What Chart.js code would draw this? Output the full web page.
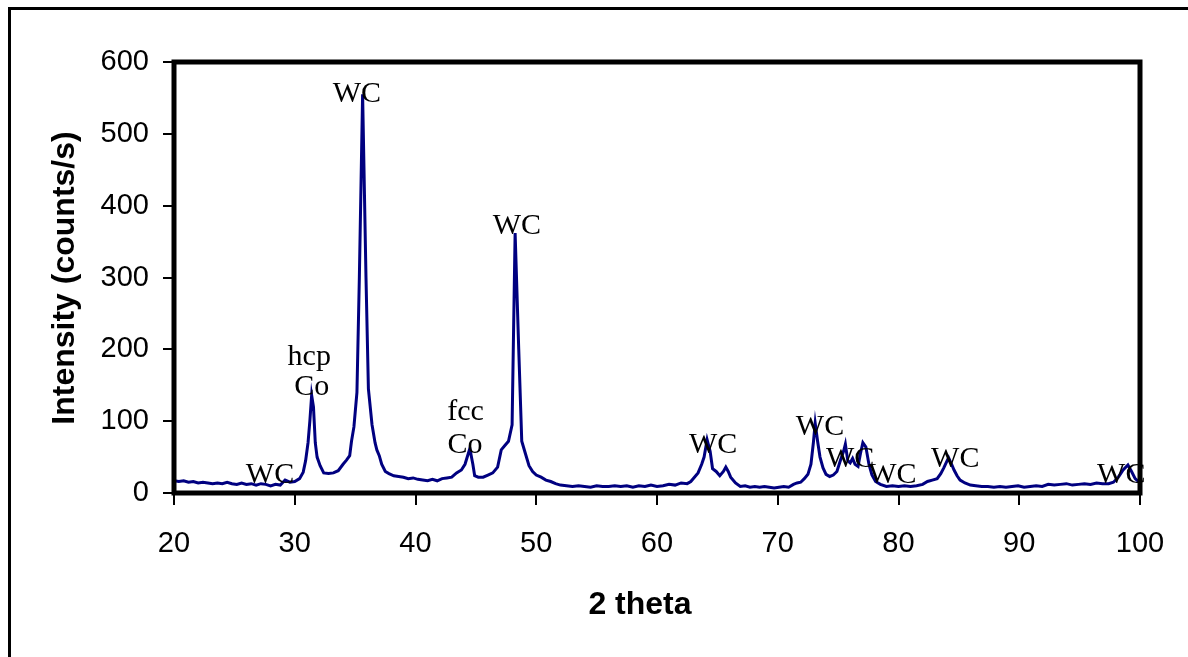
<!DOCTYPE html>
<html>
<head>
<meta charset="utf-8">
<script src="https://cdn.jsdelivr.net/npm/chart.js@4.4.0/dist/chart.umd.min.js"></script>
<style>
  body { margin: 0; background: #fff; overflow: hidden; }
  #frame { position: absolute; left: 8px; top: 7px; width: 1400px; height: 900px; border-left: 3px solid #000; border-top: 3px solid #000; }
  #xrd { position: absolute; left: 0; top: 0; }
</style>
</head>
<body>
<div id="frame"></div>
<canvas id="xrd" width="1188" height="657"></canvas>
<script>
/* global Chart */

// 2 theta (deg) and intensity (counts/s)
const twoTheta = [
  20.0, 20.4, 20.8, 21.2, 21.6, 22.0, 22.4, 22.8, 23.2, 23.6, 24.0, 24.4, 24.8, 25.2, 25.6, 26.0,
  26.4, 26.8, 27.2, 27.6, 28.0, 28.4, 28.8, 29.2, 29.6, 30.0, 30.4, 30.7, 30.9, 31.1, 31.25, 31.4,
  31.55, 31.7, 31.85, 32.1, 32.4, 32.8, 33.2, 33.6, 34.0, 34.3, 34.55, 34.7, 34.9, 35.15, 35.35, 35.62,
  35.9, 36.1, 36.4, 36.65, 36.8, 37.0, 37.2, 37.5, 37.8, 38.2, 38.6, 39.0, 39.4, 39.8, 40.2, 40.6,
  41.0, 41.4, 41.8, 42.2, 42.6, 43.0, 43.4, 43.8, 44.1, 44.5, 44.75, 44.9, 45.2, 45.6, 46.0, 46.4,
  46.8, 47.1, 47.4, 47.7, 48.0, 48.25, 48.55, 48.8, 49.1, 49.4, 49.7, 50.0, 50.4, 50.8, 51.2, 51.6,
  52.0, 52.5, 53.0, 53.5, 54.0, 54.5, 55.0, 55.5, 56.0, 56.5, 57.0, 57.5, 58.0, 58.5, 59.0, 59.5,
  60.0, 60.5, 61.0, 61.5, 62.0, 62.5, 62.8, 63.1, 63.4, 63.7, 63.9, 64.15, 64.4, 64.6, 64.9, 65.2,
  65.5, 65.7, 65.9, 66.1, 66.5, 66.9, 67.3, 67.7, 68.1, 68.5, 68.9, 69.3, 69.7, 70.1, 70.5, 70.9,
  71.3, 71.6, 71.9, 72.2, 72.5, 72.75, 72.95, 73.1, 73.3, 73.5, 73.75, 74.0, 74.3, 74.6, 74.9, 75.2,
  75.45, 75.6, 75.8, 76.0, 76.2, 76.4, 76.65, 76.85, 77.05, 77.3, 77.55, 77.8, 78.1, 78.5, 79.0, 79.5,
  80.0, 80.5, 81.0, 81.5, 82.0, 82.4, 82.8, 83.2, 83.5, 83.75, 84.0, 84.15, 84.4, 84.6, 84.85, 85.1,
  85.5, 85.95, 86.4, 86.9, 87.4, 87.9, 88.4, 88.9, 89.4, 89.9, 90.4, 90.9, 91.4, 91.9, 92.4, 92.9,
  93.4, 93.9, 94.4, 94.9, 95.4, 95.9, 96.4, 96.9, 97.4, 97.8, 98.2, 98.6, 99.0, 99.3, 99.6, 100.0
];
const intensity = [
  17, 16, 17, 15, 16, 14, 15, 14, 13, 14, 13, 15, 13, 12, 14, 12,
  13, 11, 13, 12, 10, 12, 11, 18, 15, 16, 20, 29, 45, 70, 100, 136,
  120, 70, 50, 38, 28, 27, 28, 31, 40, 46, 52, 72, 92, 140, 300, 555,
  300, 145, 95, 70, 60, 52, 40, 30, 27, 24, 23, 22, 20, 21, 19, 18,
  17, 19, 17, 20, 21, 22, 28, 32, 40, 62, 40, 24, 22, 22, 25, 28,
  36, 60, 66, 72, 95, 362, 200, 72, 55, 38, 30, 25, 22, 18, 16, 13,
  11, 10, 9, 10, 9, 8, 10, 9, 9, 10, 9, 10, 8, 10, 9, 11,
  9, 10, 12, 11, 14, 13, 16, 22, 28, 40, 50, 74, 58, 34, 30, 24,
  30, 36, 30, 22, 14, 9, 10, 8, 9, 8, 9, 8, 7, 8, 9, 8,
  12, 14, 15, 20, 26, 40, 70, 97, 72, 50, 35, 26, 23, 25, 30, 46,
  58, 68, 45, 42, 48, 40, 37, 55, 70, 64, 40, 25, 16, 12, 9, 10,
  9, 10, 9, 10, 12, 16, 18, 20, 27, 35, 44, 49, 40, 32, 24, 18,
  14, 11, 10, 9, 9, 8, 9, 8, 9, 10, 8, 9, 10, 9, 12, 11,
  12, 13, 11, 12, 13, 12, 14, 13, 13, 15, 22, 32, 39, 30, 20, 14
];

// peak labels: text, 2 theta, intensity at the text baseline
const peakText = ['WC', 'hcp', 'Co', 'WC', 'fcc', 'Co', 'WC', 'WC', 'WC', 'WC', 'WC', 'WC', 'WC'];
const peakX = [27.95, 31.2, 31.4, 35.15, 44.15, 44.1, 48.4, 64.65, 73.5, 76.0, 79.5, 84.7, 98.45];
const peakY = [14, 178, 136, 545, 102, 56, 361, 56, 81, 36, 14, 36, 14];

const xTicks = [20, 30, 40, 50, 60, 70, 80, 90, 100];
const yTicks = [0, 100, 200, 300, 400, 500, 600];

const points = twoTheta.map((t, i) => ({ x: t, y: intensity[i] }));

const plotExtras = {
  id: 'plotExtras',
  afterDatasetsDraw(chart) {
    const { ctx, chartArea: a, scales: { x, y } } = chart;
    ctx.save();
    ctx.fillStyle = '#000';
    ctx.font = '30px "Liberation Serif", "Times New Roman", serif';
    ctx.textAlign = 'center';
    ctx.textBaseline = 'alphabetic';
    peakText.forEach((txt, i) => {
      ctx.fillText(txt, x.getPixelForValue(peakX[i]), y.getPixelForValue(peakY[i]));
    });

    ctx.strokeStyle = '#000';
    ctx.lineWidth = 5;
    ctx.strokeRect(a.left, a.top, a.right - a.left, a.bottom - a.top);

    ctx.font = 'bold 32px "Liberation Sans", Arial, sans-serif';
    ctx.textBaseline = 'middle';
    ctx.fillText('2 theta', 640, 605);
    ctx.translate(65, 278);
    ctx.rotate(-Math.PI / 2);
    ctx.fillText('Intensity (counts/s)', 0, 0);
    ctx.restore();
  }
};

const tickFont = { family: '"Liberation Sans", Arial, sans-serif', size: 29 };

new Chart('xrd', {
  type: 'scatter',
  data: {
    datasets: [{
      data: points,
      showLine: true,
      borderColor: '#000080',
      borderWidth: 3,
      pointRadius: 0,
      tension: 0,
      fill: false
    }]
  },
  options: {
    responsive: false,
    animation: false,
    layout: { padding: { top: 62, right: 48, left: 0, bottom: 0 } },
    plugins: { legend: { display: false }, tooltip: { enabled: false } },
    scales: {
      x: {
        type: 'linear',
        min: 20,
        max: 100,
        afterFit(s) { s.height = 164; },
        afterBuildTicks(s) { s.ticks = xTicks.map(v => ({ value: v })); },
        grid: { drawOnChartArea: false, drawTicks: true, tickLength: 12, color: '#000', lineWidth: 2 },
        border: { display: false },
        ticks: { color: '#000', font: tickFont, padding: 22, maxRotation: 0 }
      },
      y: {
        min: 0,
        max: 600,
        afterFit(s) { s.width = 174; },
        afterBuildTicks(s) { s.ticks = yTicks.map(v => ({ value: v })); },
        grid: { drawOnChartArea: false, drawTicks: true, tickLength: 11, color: '#000', lineWidth: 2 },
        border: { display: false },
        ticks: { color: '#000', font: tickFont, padding: 14 }
      }
    }
  },
  plugins: [plotExtras]
});
</script>
</body>
</html>
